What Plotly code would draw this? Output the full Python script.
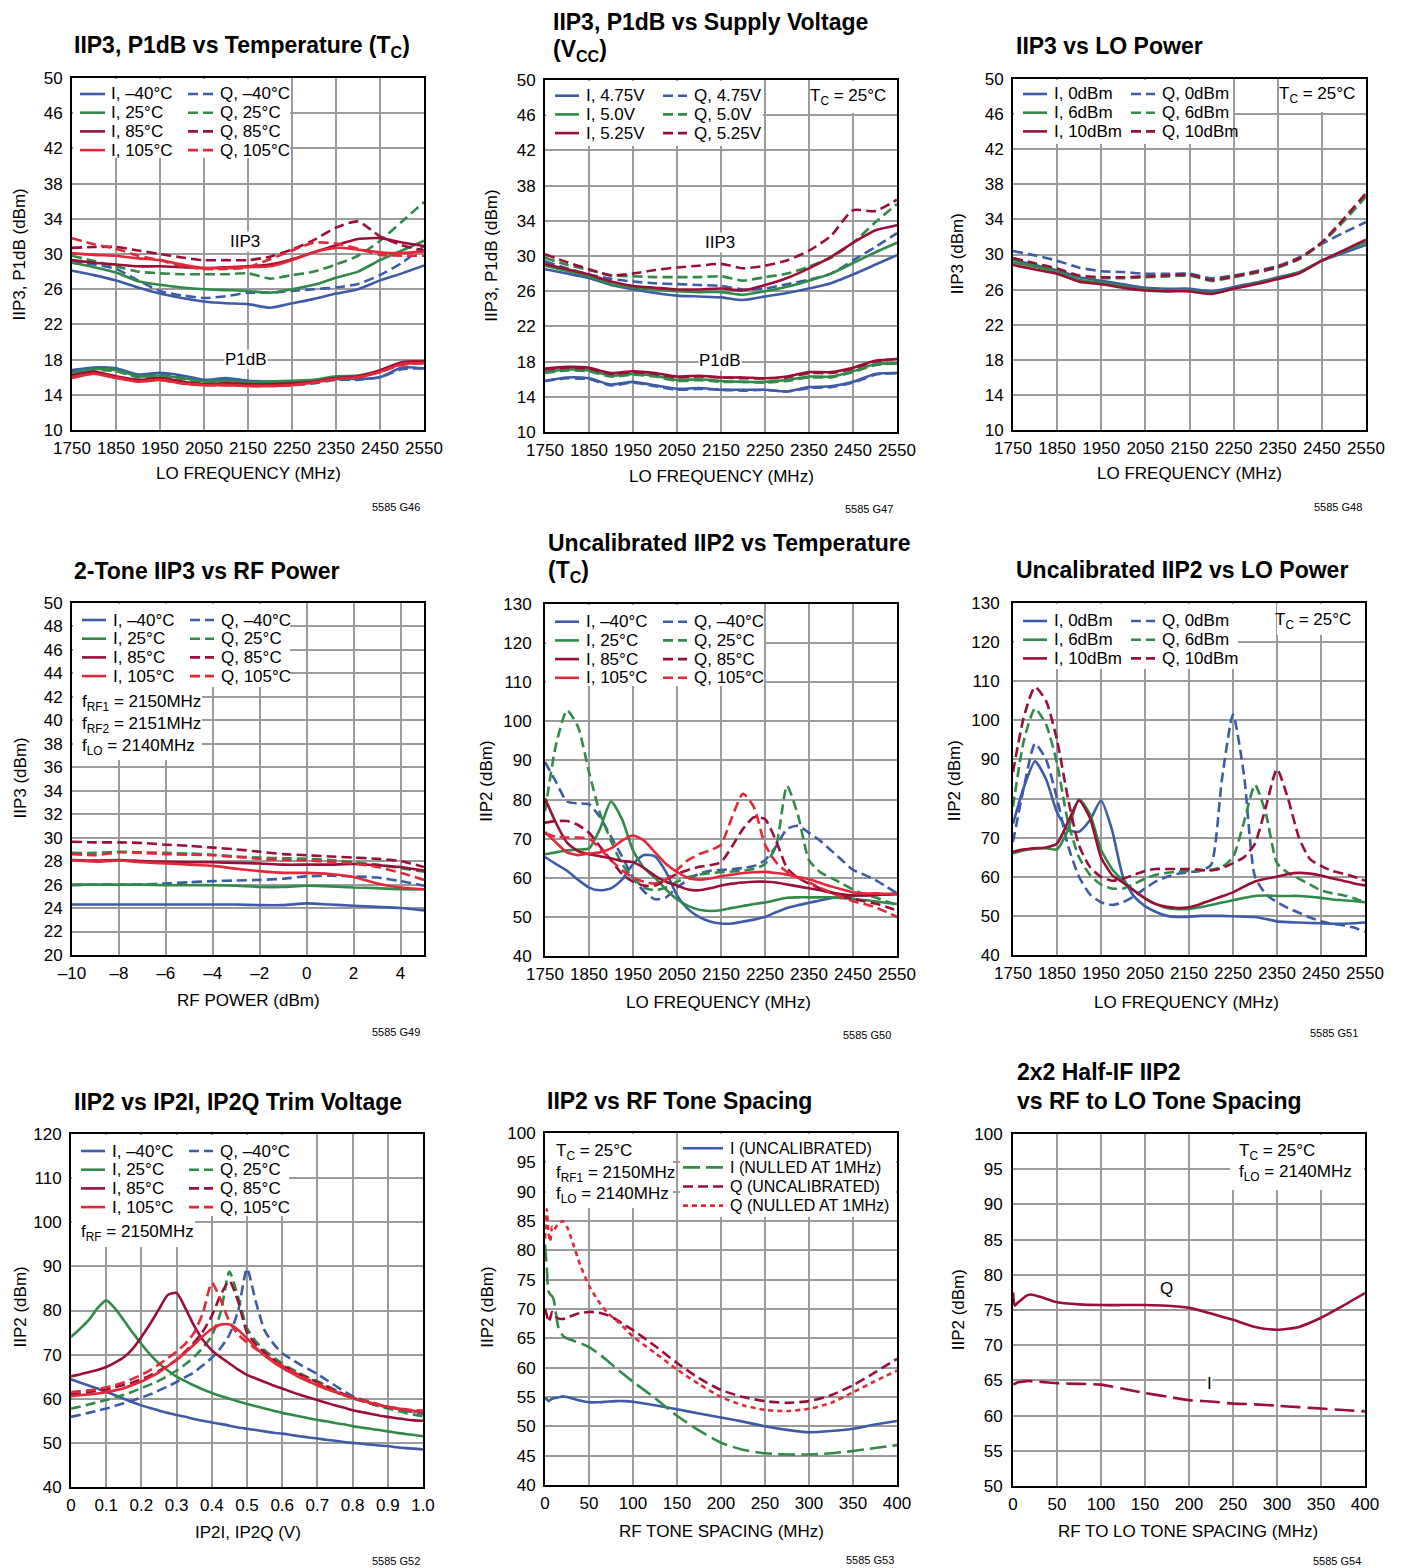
import plotly.graph_objects as go

W, H = 1403, 1568
OFF = 8  # the page body adds an 8px margin; layout positions below are page pixels
FONT = "Liberation Sans, Arial, Helvetica, sans-serif"
BLUE, GREEN, DRED, RED = "#3d5ca8", "#2f8b47", "#9a0f37", "#e32937"
GRID = "#9b9b9b"
LW = 2.6
DASH = "10px,5px"
FS = 17      # body text size
TS = 23      # title size

# ---------------- data ----------------
LO_X = [1750, 1800, 1850, 1900, 1950, 2000, 2050, 2100, 2150, 2200, 2250, 2300, 2350, 2400, 2450, 2500, 2550]
LO_X25 = [1750, 1775, 1800, 1825, 1850, 1875, 1900, 1925, 1950, 1975, 2000, 2025, 2050, 2075, 2100, 2125, 2150,
          2175, 2200, 2225, 2250, 2275, 2300, 2325, 2350, 2375, 2400, 2425, 2450, 2475, 2500, 2525, 2550]
LO_TICKS = [1750, 1850, 1950, 2050, 2150, 2250, 2350, 2450, 2550]

TEMP_LABELS = ["–40°C", "25°C", "85°C", "105°C"]
TEMP_COLORS = [BLUE, GREEN, DRED, RED]
VCC_LABELS = ["4.75V", "5.0V", "5.25V"]
LOP_LABELS = ["0dBm", "6dBm", "10dBm"]
COLORS3 = [BLUE, GREEN, DRED]

# Panel 1: IIP3, P1dB vs temperature
P1_IIP3_I = [
    [28.1, 27.6, 27.0, 26.2, 25.5, 25.0, 24.6, 24.4, 24.3, 23.9, 24.4, 24.9, 25.5, 26.0, 27.0, 27.8, 28.7],
    [29.0, 28.5, 27.9, 26.9, 26.5, 26.2, 26.0, 25.9, 25.8, 25.6, 26.0, 26.5, 27.3, 28.0, 29.3, 30.4, 31.5],
    [29.3, 29.0, 28.8, 28.6, 28.6, 28.5, 28.4, 28.5, 28.6, 28.8, 29.4, 30.2, 31.0, 31.7, 31.8, 31.3, 30.9],
    [30.1, 29.9, 29.8, 29.5, 29.3, 28.8, 28.4, 28.4, 28.5, 28.6, 29.3, 30.2, 30.7, 30.5, 30.2, 30.1, 30.3]]
P1_IIP3_Q = [
    [29.0, 28.8, 28.3, 27.0, 25.8, 25.3, 25.0, 25.2, 25.6, 25.6, 25.8, 26.0, 26.2, 26.6, 27.6, 29.0, 30.9],
    [29.8, 29.2, 28.6, 28.0, 27.8, 27.7, 27.7, 27.7, 27.8, 27.2, 27.6, 28.0, 28.8, 29.8, 31.5, 33.7, 35.9],
    [30.7, 30.8, 30.8, 30.4, 30.0, 29.6, 29.3, 29.3, 29.3, 29.7, 30.5, 31.6, 33.0, 33.7, 32.0, 31.0, 30.4],
    [31.8, 31.1, 30.6, 29.8, 29.3, 28.6, 28.3, 28.3, 28.5, 29.4, 30.4, 31.3, 31.2, 30.6, 29.9, 29.8, 29.8]]
P1_P1DB_I = [
    [16.8, 17.1, 17.0, 16.3, 16.5, 16.2, 15.7, 15.9, 15.6, 15.5, 15.5, 15.6, 15.8, 15.8, 16.0, 17.1, 17.0],
    [16.5, 16.9, 16.8, 16.1, 16.2, 15.9, 15.5, 15.6, 15.4, 15.5, 15.6, 15.7, 16.1, 16.2, 16.7, 17.6, 17.7],
    [16.2, 16.6, 16.1, 15.7, 15.9, 15.5, 15.2, 15.3, 15.2, 15.2, 15.3, 15.5, 15.9, 16.1, 16.8, 17.7, 17.8],
    [15.9, 16.4, 15.9, 15.5, 15.7, 15.3, 15.1, 15.1, 15.0, 15.0, 15.1, 15.4, 15.8, 16.0, 16.6, 17.5, 17.6]]
P1_P1DB_Q = [
    [16.7, 17.0, 16.9, 16.2, 16.4, 16.0, 15.6, 15.7, 15.4, 15.3, 15.1, 15.3, 15.7, 15.7, 16.0, 16.9, 17.0],
    [16.4, 16.8, 16.7, 16.0, 16.1, 15.8, 15.4, 15.5, 15.3, 15.3, 15.4, 15.6, 16.0, 16.1, 16.6, 17.5, 17.7],
    [16.1, 16.5, 16.0, 15.6, 15.8, 15.4, 15.2, 15.2, 15.1, 15.1, 15.2, 15.4, 15.9, 16.0, 16.7, 17.6, 17.8],
    [16.0, 16.4, 16.0, 15.5, 15.7, 15.3, 15.1, 15.1, 15.0, 15.0, 15.1, 15.4, 15.8, 16.0, 16.6, 17.4, 17.6]]

# Panel 2: IIP3, P1dB vs supply voltage
P2_IIP3_I = [
    [28.5, 28.0, 27.5, 26.7, 26.2, 25.8, 25.5, 25.4, 25.3, 25.0, 25.4, 25.8, 26.3, 26.9, 27.9, 29.0, 30.1],
    [28.9, 28.3, 27.7, 26.8, 26.4, 26.2, 26.0, 25.9, 25.9, 25.6, 26.0, 26.5, 27.2, 28.0, 29.2, 30.4, 31.5],
    [29.1, 28.5, 27.9, 27.1, 26.6, 26.4, 26.2, 26.2, 26.3, 26.1, 26.7, 27.5, 28.6, 29.9, 31.5, 32.9, 33.5]]
P2_IIP3_Q = [
    [29.4, 28.6, 27.9, 27.4, 27.1, 26.9, 26.8, 26.7, 26.6, 26.2, 26.3, 26.8, 27.3, 28.0, 29.5, 31.0, 32.6],
    [29.8, 29.0, 28.4, 27.8, 27.7, 27.6, 27.6, 27.6, 27.7, 27.2, 27.6, 28.0, 28.8, 29.8, 31.5, 33.8, 35.9],
    [30.2, 29.3, 28.5, 27.8, 28.0, 28.4, 28.7, 28.9, 29.1, 28.6, 28.9, 29.5, 30.6, 32.3, 35.2, 35.1, 36.4]]
P2_P1DB_I = [
    [15.8, 16.2, 16.1, 15.4, 15.7, 15.3, 14.9, 15.0, 14.8, 14.8, 14.8, 14.6, 15.1, 15.2, 15.7, 16.6, 16.7],
    [16.8, 17.1, 17.0, 16.4, 16.6, 16.4, 15.9, 16.0, 15.8, 15.7, 15.7, 15.9, 16.3, 16.3, 16.9, 17.7, 17.8],
    [17.2, 17.4, 17.3, 16.7, 16.9, 16.7, 16.3, 16.4, 16.2, 16.2, 16.1, 16.3, 16.8, 16.8, 17.3, 18.1, 18.3]]
P2_P1DB_Q = [
    [15.8, 16.1, 16.0, 15.3, 15.6, 15.2, 14.8, 14.9, 14.8, 14.7, 14.8, 14.6, 15.0, 15.1, 15.6, 16.5, 16.7],
    [16.7, 17.0, 16.9, 16.3, 16.5, 16.3, 15.8, 15.9, 15.7, 15.7, 15.6, 15.8, 16.2, 16.2, 16.8, 17.6, 17.8],
    [17.1, 17.3, 17.2, 16.6, 16.8, 16.6, 16.2, 16.3, 16.2, 16.1, 16.1, 16.2, 16.7, 16.7, 17.2, 18.0, 18.3]]

# Panel 3: IIP3 vs LO power
P3_I = [
    [29.4, 28.8, 28.2, 27.4, 27.0, 26.6, 26.2, 26.1, 26.1, 25.8, 26.3, 26.8, 27.4, 28.0, 29.3, 30.2, 31.1],
    [29.1, 28.6, 28.0, 27.1, 26.8, 26.4, 26.0, 25.9, 25.9, 25.6, 26.1, 26.7, 27.3, 28.0, 29.3, 30.4, 31.4],
    [28.8, 28.3, 27.8, 26.9, 26.6, 26.2, 25.9, 25.8, 25.8, 25.5, 26.1, 26.6, 27.2, 27.9, 29.3, 30.5, 31.7]]
P3_Q = [
    [30.4, 29.9, 29.3, 28.5, 28.1, 28.0, 27.8, 27.8, 27.8, 27.3, 27.6, 28.1, 28.7, 29.7, 31.2, 32.5, 33.7],
    [29.5, 28.9, 28.3, 27.5, 27.3, 27.3, 27.4, 27.5, 27.6, 27.0, 27.4, 27.9, 28.5, 29.5, 31.3, 33.8, 36.6],
    [29.6, 29.0, 28.4, 27.6, 27.4, 27.4, 27.5, 27.6, 27.7, 27.1, 27.5, 28.0, 28.6, 29.6, 31.4, 34.1, 37.0]]

# Panel 4: 2-tone IIP3 vs RF power
RF_PWR = [-10, -9, -8, -7, -6, -5, -4, -3, -2, -1, 0, 1, 2, 3, 4, 5]
RF_TICKS = [-10, -8, -6, -4, -2, 0, 2, 4]
RF_TICKTEXT = ["–10", "–8", "–6", "–4", "–2", "0", "2", "4"]
P4_I = [
    [24.3, 24.3, 24.3, 24.3, 24.3, 24.3, 24.3, 24.3, 24.25, 24.25, 24.4, 24.3, 24.2, 24.1, 24.0, 23.8],
    [26.0, 26.0, 26.0, 26.0, 25.95, 25.95, 25.95, 25.9, 25.8, 25.8, 25.9, 25.85, 25.75, 25.7, 25.6, 25.6],
    [28.1, 28.05, 28.1, 28.0, 27.95, 27.9, 27.9, 27.85, 27.8, 27.7, 27.7, 27.7, 27.75, 27.65, 27.5, 27.2],
    [28.1, 27.95, 28.05, 27.9, 27.8, 27.7, 27.6, 27.35, 27.15, 27.0, 27.0, 26.9, 26.65, 26.1, 25.75, 25.6]]
P4_Q = [
    [25.95, 26.0, 26.0, 26.0, 26.1, 26.2, 26.3, 26.35, 26.4, 26.5, 26.7, 26.75, 26.7, 26.6, 26.3, 25.9],
    [28.7, 28.7, 28.8, 28.75, 28.7, 28.65, 28.55, 28.4, 28.3, 28.25, 28.2, 28.1, 27.9, 27.7, 27.4, 27.1],
    [29.65, 29.6, 29.6, 29.55, 29.4, 29.3, 29.15, 29.0, 28.8, 28.6, 28.5, 28.4, 28.3, 28.2, 28.0, 27.5],
    [28.6, 28.5, 28.75, 28.7, 28.6, 28.55, 28.5, 28.35, 28.2, 28.1, 28.05, 27.95, 27.8, 27.5, 27.0, 26.4]]

# Panel 5: uncalibrated IIP2 vs temperature
P5_I = [
    [65.3, 63.5, 61.8, 59.5, 57.5, 56.8, 57.3, 59.5, 63.5, 65.8, 65.5, 61.5, 55.5, 52.0, 50.0, 48.8, 48.3,
     48.3, 48.8, 49.3, 50.0, 51.2, 52.3, 53.0, 53.6, 54.2, 54.8, 55.2, 55.4, 55.5, 55.6, 55.8, 56.0],
    [66.0, 66.5, 67.0, 67.2, 67.5, 72.5, 79.5, 75.0, 67.0, 62.5, 60.0, 57.0, 54.5, 52.8, 51.8, 51.5, 51.7,
     52.3, 52.8, 53.3, 53.7, 54.3, 54.9, 55.0, 55.0, 55.0, 55.0, 54.8, 54.6, 54.3, 54.0, 53.6, 53.3],
    [80.3, 74.0, 69.0, 66.8, 66.0, 65.5, 65.0, 64.3, 64.0, 62.5, 60.5, 59.0, 58.0, 57.0, 56.8, 57.3, 58.0,
     58.5, 58.8, 59.0, 59.0, 58.8, 58.3, 57.8, 57.3, 56.8, 56.2, 55.8, 55.5, 55.5, 55.6, 55.7, 55.8],
    [71.7, 69.0, 66.5, 65.8, 66.2, 66.5, 67.5, 69.5, 70.8, 69.5, 66.5, 63.5, 61.5, 60.0, 59.5, 59.8, 60.4,
     60.8, 61.2, 61.4, 61.5, 61.2, 60.8, 60.2, 59.6, 58.7, 57.8, 57.0, 56.3, 56.0, 56.0, 55.9, 55.8]]
P5_Q = [
    [89.6, 84.5, 79.5, 79.0, 78.8, 75.5, 70.5, 65.5, 60.0, 56.5, 54.5, 55.0, 57.5, 59.5, 61.0, 61.8, 62.0,
     62.2, 62.5, 63.0, 64.5, 68.0, 72.5, 73.3, 71.5, 69.5, 67.0, 64.5, 62.0, 60.8, 59.5, 57.8, 56.0],
    [77.0, 94.0, 102.8, 98.6, 87.0, 76.5, 69.5, 63.5, 60.0, 57.5, 56.8, 57.5, 59.0, 60.2, 60.8, 61.2, 61.4,
     61.6, 61.8, 62.3, 63.5, 68.0, 83.5, 76.0, 64.5, 61.5, 60.0, 58.5, 57.0, 55.8, 55.0, 54.0, 53.0],
    [74.1, 74.5, 74.5, 73.5, 71.5, 68.0, 64.5, 61.0, 59.0, 58.0, 58.0, 59.5, 61.0, 62.0, 62.8, 63.2, 64.0,
     68.0, 72.5, 75.5, 75.0, 69.5, 62.5, 60.0, 58.5, 57.3, 56.3, 55.3, 54.6, 54.0, 53.4, 52.6, 51.6],
    [71.3, 70.5, 70.3, 70.3, 70.0, 67.5, 64.5, 62.0, 60.0, 59.0, 58.5, 59.5, 62.0, 64.5, 66.0, 67.0, 68.5,
     75.5, 81.5, 78.0, 68.5, 64.0, 61.5, 60.0, 58.8, 57.5, 56.2, 55.0, 54.0, 53.3, 52.5, 51.3, 50.0]]

# Panel 6: uncalibrated IIP2 vs LO power
P6_I = [
    [73.6, 83.0, 89.5, 85.0, 76.5, 72.0, 71.5, 74.5, 79.5, 72.0, 60.0, 55.0, 52.5, 51.0, 50.0, 49.7, 49.8,
     50.0, 50.0, 50.0, 49.9, 49.8, 49.7, 49.2, 48.6, 48.4, 48.3, 48.2, 48.1, 48.0, 48.0, 48.1, 48.3],
    [66.0, 66.8, 67.2, 67.3, 67.0, 72.0, 79.8, 76.0, 67.0, 62.0, 59.0, 56.5, 54.5, 53.0, 52.0, 51.7, 51.8,
     52.2, 52.8, 53.4, 54.0, 54.6, 55.1, 55.2, 55.1, 55.1, 55.1, 54.9, 54.6, 54.2, 54.0, 53.8, 53.5],
    [66.4, 67.0, 67.3, 67.5, 68.5, 74.0, 79.5, 75.0, 65.0, 60.5, 58.5, 56.5, 54.5, 53.0, 52.3, 52.0, 52.2,
     53.0, 54.0, 55.0, 56.0, 57.5, 58.8, 59.5, 60.0, 60.7, 61.0, 60.8, 60.3, 59.6, 59.0, 58.3, 57.8]]
P6_Q = [
    [68.9, 83.0, 94.0, 90.0, 80.0, 68.0, 60.0, 55.5, 53.5, 52.8, 53.5, 55.0, 57.0, 58.8, 60.0, 60.8, 61.2,
     61.5, 63.0, 85.0, 101.5, 86.0, 60.0, 55.5, 53.5, 52.0, 50.8, 49.6, 48.6, 48.0, 47.6, 47.0, 46.0],
    [77.9, 95.0, 103.0, 99.0, 89.0, 74.0, 65.0, 60.5, 58.0, 57.0, 57.0, 58.2, 59.5, 60.5, 61.0, 61.3, 61.5,
     61.6, 61.8, 62.5, 65.0, 74.0, 83.5, 76.0, 63.5, 61.0, 59.5, 58.0, 56.5, 55.8, 55.3, 54.5, 53.5],
    [86.8, 101.0, 108.5, 105.0, 95.0, 80.0, 68.0, 62.5, 60.0, 59.0, 59.5, 60.5, 61.5, 62.0, 62.0, 62.0, 62.0,
     61.8, 61.6, 62.2, 63.5, 65.0, 68.5, 78.0, 87.5, 80.0, 70.0, 64.5, 62.8, 61.5, 60.8, 60.0, 59.0]]

# Panel 7: IIP2 vs trim voltage
TRIM_V = [0, 0.025, 0.05, 0.075, 0.1, 0.125, 0.15, 0.175, 0.2, 0.225, 0.25, 0.275, 0.3, 0.325, 0.35,
          0.375, 0.4, 0.425, 0.45, 0.475, 0.5, 0.525, 0.55, 0.575, 0.6, 0.625, 0.65, 0.675, 0.7, 0.725,
          0.75, 0.775, 0.8, 0.825, 0.85, 0.875, 0.9, 0.925, 0.95, 0.975, 1.0]
TRIM_TICKS = [0, 0.1, 0.2, 0.3, 0.4, 0.5, 0.6, 0.7, 0.8, 0.9, 1.0]
TRIM_TICKTEXT = ["0", "0.1", "0.2", "0.3", "0.4", "0.5", "0.6", "0.7", "0.8", "0.9", "1.0"]
P7_I = [
    [64.4, 63.7, 63.0, 62.3, 61.6, 60.8, 60.0, 59.2, 58.5, 57.9, 57.3, 56.8, 56.3, 55.9, 55.4, 55.0, 54.6,
     54.3, 53.9, 53.5, 53.2, 52.9, 52.6, 52.3, 52.1, 51.8, 51.5, 51.2, 51.0, 50.7, 50.5, 50.2, 50.0, 49.8,
     49.6, 49.4, 49.3, 49.0, 48.8, 48.7, 48.5],
    [74.0, 75.8, 77.8, 80.5, 82.3, 80.5, 77.8, 75.0, 72.4, 70.0, 68.0, 66.4, 65.0, 64.0, 63.0, 62.1, 61.3,
     60.6, 60.0, 59.4, 58.8, 58.3, 57.8, 57.3, 56.8, 56.4, 56.0, 55.6, 55.2, 54.9, 54.5, 54.2, 53.8, 53.5,
     53.2, 52.9, 52.6, 52.3, 52.0, 51.8, 51.5],
    [65.1, 65.5, 66.0, 66.5, 67.2, 68.2, 69.4, 71.3, 74.0, 77.0, 80.3, 83.5, 84.0, 80.5, 76.5, 73.3, 71.0,
     69.4, 68.0, 66.6, 65.4, 64.6, 63.8, 63.0, 62.3, 61.6, 60.9, 60.3, 59.7, 59.1, 58.5, 58.0, 57.4, 57.0,
     56.6, 56.2, 55.9, 55.6, 55.3, 55.1, 55.0],
    [60.6, 60.8, 61.0, 61.2, 61.5, 61.9, 62.4, 63.1, 63.9, 64.9, 66.0, 67.4, 68.8, 70.5, 72.3, 74.2, 75.8,
     76.8, 76.8, 75.6, 73.7, 71.6, 69.8, 68.3, 67.0, 65.9, 64.8, 63.9, 63.0, 62.2, 61.5, 60.8, 60.2, 59.6,
     59.1, 58.6, 58.2, 57.8, 57.5, 57.2, 57.0]]
P7_Q = [
    [55.9, 56.3, 56.8, 57.3, 57.8, 58.4, 59.0, 59.6, 60.3, 61.0, 61.9, 62.8, 63.8, 64.9, 66.0, 67.6, 69.3,
     71.5, 74.5, 80.0, 89.5, 82.0, 75.5, 72.5, 70.3, 69.0, 67.8, 66.7, 65.6, 64.3, 63.0, 61.7, 60.6, 59.9,
     59.3, 58.7, 58.2, 57.7, 57.3, 56.9, 56.6],
    [57.8, 58.2, 58.7, 59.2, 59.7, 60.3, 60.9, 61.6, 62.4, 63.2, 64.1, 65.2, 66.4, 67.8, 69.5, 71.6, 74.3,
     79.5, 88.8, 83.0, 76.0, 73.0, 71.0, 69.4, 68.0, 66.8, 65.8, 64.8, 64.0, 63.0, 62.0, 61.0, 60.1, 59.5,
     58.9, 58.3, 57.8, 57.3, 56.8, 56.4, 56.0],
    [61.0, 61.2, 61.5, 61.8, 62.1, 62.6, 63.1, 63.7, 64.4, 65.3, 66.3, 67.5, 68.9, 70.7, 72.8, 75.3, 78.8,
     83.5, 86.7, 82.0, 75.0, 72.3, 70.5, 68.9, 67.6, 66.5, 65.5, 64.6, 63.7, 62.8, 61.9, 61.0, 60.2, 59.6,
     59.0, 58.5, 58.1, 57.8, 57.5, 57.2, 57.0],
    [61.5, 61.7, 61.9, 62.2, 62.6, 63.1, 63.7, 64.5, 65.4, 66.5, 67.8, 69.2, 70.7, 72.5, 75.0, 79.5, 86.3,
     82.5, 77.5, 74.5, 72.8, 71.3, 70.0, 68.7, 67.5, 66.4, 65.3, 64.3, 63.4, 62.5, 61.7, 60.9, 60.2, 59.6,
     59.1, 58.6, 58.2, 57.9, 57.6, 57.4, 57.3]]

# Panel 8: IIP2 vs RF tone spacing
TONE_X = [0, 2, 4, 6, 8, 10, 15, 20, 25, 30, 40, 50, 60, 70, 80, 90, 100, 125, 150, 175, 200, 225, 250,
          275, 300, 325, 350, 375, 400]
SPACING_TICKS = [0, 50, 100, 150, 200, 250, 300, 350, 400]
P8_LABELS = ["I (UNCALIBRATED)", "I (NULLED AT 1MHz)", "Q (UNCALIBRATED)", "Q (NULLED AT 1MHz)"]
P8_COLORS = [BLUE, GREEN, DRED, RED]
P8_DASHES = ["solid", "17px,6px", DASH, "5px,4px"]
P8_Y = [
    [54.8, 54.6, 54.3, 54.5, 54.7, 54.8, 54.9, 55.1, 55.0, 54.8, 54.4, 54.1, 54.1, 54.2, 54.3, 54.3, 54.2,
     53.6, 52.9, 52.2, 51.5, 50.8, 50.0, 49.4, 49.0, 49.2, 49.6, 50.3, 50.9],
    [81.0, 77.0, 73.0, 72.5, 72.2, 71.5, 67.0, 65.5, 65.0, 64.7, 64.2, 63.5, 62.5, 61.3, 60.0, 58.8, 57.6,
     54.8, 51.8, 49.3, 47.2, 46.0, 45.4, 45.2, 45.2, 45.4, 45.8, 46.3, 46.8],
    [70.0, 69.0, 67.8, 68.5, 69.5, 69.0, 68.4, 68.3, 68.5, 68.8, 69.3, 69.5, 69.4, 69.0, 68.3, 67.3, 66.4,
     63.7, 60.8, 58.2, 56.2, 55.0, 54.3, 54.0, 54.3, 55.3, 57.0, 59.2, 61.5],
    [82.0, 87.0, 83.0, 81.5, 84.0, 83.5, 84.5, 85.0, 84.0, 82.0, 77.5, 74.0, 71.5, 69.5, 68.2, 66.8, 65.3,
     62.5, 59.7, 57.2, 55.0, 53.6, 52.8, 52.6, 53.0, 54.0, 55.8, 57.7, 59.5]]

# Panel 9: 2x2 half-IF IIP2
HALFIF_X = [0, 2, 5, 10, 15, 20, 30, 40, 50, 75, 100, 125, 150, 175, 200, 225, 250, 275, 300, 325, 350, 375, 400]
P9_Q = [77.5, 75.6, 76.0, 76.5, 77.0, 77.2, 76.9, 76.5, 76.1, 75.8, 75.7, 75.7, 75.7, 75.6, 75.3, 74.5,
        73.6, 72.6, 72.2, 72.6, 73.9, 75.6, 77.4]
P9_I = [64.4, 64.5, 64.7, 64.8, 64.9, 64.9, 64.8, 64.7, 64.6, 64.5, 64.4, 63.8, 63.2, 62.7, 62.2, 62.0,
        61.7, 61.6, 61.4, 61.2, 61.0, 60.8, 60.6]

# ---------------- figure ----------------
fig = go.Figure()
annotations = []
shapes = []


def PX(x):
    return (x - OFF) / W


def PY(y):
    return 1 - (y - OFF) / H


def note(x, y, s, size=FS, xa="left", ya="middle", bg=None, xref="paper", yref="paper", angle=0):
    if xref == "paper":
        x = PX(x)
    if yref == "paper":
        y = PY(y)
    d = dict(x=x, y=y, xref=xref, yref=yref, text=s, showarrow=False, xanchor=xa, yanchor=ya,
             font=dict(family=FONT, size=size, color="black"), textangle=angle)
    if bg:
        d.update(bgcolor=bg, borderpad=0)
    annotations.append(d)


def white_box(x0, y0, x1, y1):
    shapes.append(dict(type="rect", xref="paper", yref="paper", x0=PX(x0), x1=PX(x1), y0=PY(y1), y1=PY(y0),
                       fillcolor="white", line=dict(width=0), layer="above"))


def legend_col(entries, x0, x1, xt, y0, dy=18.7, size=FS):
    for k, (label, color, dash) in enumerate(entries):
        yy = y0 + k * dy
        shapes.append(dict(type="line", xref="paper", yref="paper", x0=PX(x0), x1=PX(x1), y0=PY(yy), y1=PY(yy),
                           line=dict(color=color, width=LW, dash=dash), layer="above"))
        note(xt, yy, label, size=size)


def lines(n, xs, ys, color, dash="solid"):
    fig.add_trace(go.Scatter(x=xs, y=ys, mode="lines", xaxis="x" + n, yaxis="y" + n, showlegend=False,
                             hoverinfo="skip",
                             line=dict(color=color, width=LW, dash=dash, shape="spline", smoothing=0.6)))


AX = dict(showgrid=True, gridcolor=GRID, gridwidth=1.5, showline=True, linecolor="black", linewidth=2,
          mirror=True, zeroline=False, ticks="", fixedrange=True, tickmode="array", automargin=False,
          tickangle=0, tickfont=dict(family=FONT, size=FS, color="black"))

PANELS = [
    dict(box=(72, 78, 424, 430), xr=[1750, 2550], xt=LO_TICKS, xtt=[str(v) for v in LO_TICKS],
         yr=[10, 50], yt=[10, 14, 18, 22, 26, 30, 34, 38, 42, 46, 50], ys=4),
    dict(box=(545, 80, 897, 432), xr=[1750, 2550], xt=LO_TICKS, xtt=[str(v) for v in LO_TICKS],
         yr=[10, 50], yt=[10, 14, 18, 22, 26, 30, 34, 38, 42, 46, 50], ys=4),
    dict(box=(1013, 79, 1366, 430), xr=[1750, 2550], xt=LO_TICKS, xtt=[str(v) for v in LO_TICKS],
         yr=[10, 50], yt=[10, 14, 18, 22, 26, 30, 34, 38, 42, 46, 50], ys=4),
    dict(box=(72, 603, 424, 955), xr=[-10, 5], xt=RF_TICKS, xtt=RF_TICKTEXT,
         yr=[20, 50], yt=[20, 22, 24, 26, 28, 30, 32, 34, 36, 38, 40, 42, 44, 46, 48, 50], ys=4),
    dict(box=(545, 604, 897, 956), xr=[1750, 2550], xt=LO_TICKS, xtt=[str(v) for v in LO_TICKS],
         yr=[40, 130], yt=[40, 50, 60, 70, 80, 90, 100, 110, 120, 130], ys=8),
    dict(box=(1013, 603, 1365, 955), xr=[1750, 2550], xt=LO_TICKS, xtt=[str(v) for v in LO_TICKS],
         yr=[40, 130], yt=[40, 50, 60, 70, 80, 90, 100, 110, 120, 130], ys=8),
    dict(box=(71, 1134, 423, 1487), xr=[0, 1.0], xt=TRIM_TICKS, xtt=TRIM_TICKTEXT,
         yr=[40, 120], yt=[40, 50, 60, 70, 80, 90, 100, 110, 120], ys=4),
    dict(box=(545, 1133, 897, 1485), xr=[0, 400], xt=SPACING_TICKS, xtt=[str(v) for v in SPACING_TICKS],
         yr=[40, 100], yt=[40, 45, 50, 55, 60, 65, 70, 75, 80, 85, 90, 95, 100], ys=4),
    dict(box=(1013, 1134, 1365, 1486), xr=[0, 400], xt=SPACING_TICKS, xtt=[str(v) for v in SPACING_TICKS],
         yr=[50, 100], yt=[50, 55, 60, 65, 70, 75, 80, 85, 90, 95, 100], ys=5),
]

layout_axes = {}
for i, p in enumerate(PANELS):
    n = "" if i == 0 else str(i + 1)
    l, t, r, b = p["box"]
    layout_axes["xaxis" + n] = dict(AX, domain=[PX(l), PX(r)], anchor="y" + n, range=p["xr"],
                                    tickvals=p["xt"], ticktext=p["xtt"], ticklabelstandoff=2)
    layout_axes["yaxis" + n] = dict(AX, domain=[PY(b), PY(t)], anchor="x" + n, range=p["yr"],
                                    tickvals=p["yt"], ticktext=[str(v) for v in p["yt"]],
                                    ticklabelstandoff=p["ys"])

# ---- traces ----
for k in range(4):
    lines("", LO_X, P1_IIP3_I[k], TEMP_COLORS[k])
    lines("", LO_X, P1_P1DB_I[k], TEMP_COLORS[k])
    lines("", LO_X, P1_IIP3_Q[k], TEMP_COLORS[k], DASH)
    lines("", LO_X, P1_P1DB_Q[k], TEMP_COLORS[k], DASH)
for k in range(3):
    lines("2", LO_X, P2_IIP3_I[k], COLORS3[k])
    lines("2", LO_X, P2_P1DB_I[k], COLORS3[k])
    lines("2", LO_X, P2_IIP3_Q[k], COLORS3[k], DASH)
    lines("2", LO_X, P2_P1DB_Q[k], COLORS3[k], DASH)
for k in range(3):
    lines("3", LO_X, P3_I[k], COLORS3[k])
    lines("3", LO_X, P3_Q[k], COLORS3[k], DASH)
for k in range(4):
    lines("4", RF_PWR, P4_I[k], TEMP_COLORS[k])
    lines("4", RF_PWR, P4_Q[k], TEMP_COLORS[k], DASH)
for k in range(4):
    lines("5", LO_X25, P5_I[k], TEMP_COLORS[k])
    lines("5", LO_X25, P5_Q[k], TEMP_COLORS[k], DASH)
for k in range(3):
    lines("6", LO_X25, P6_I[k], COLORS3[k])
    lines("6", LO_X25, P6_Q[k], COLORS3[k], DASH)
for k in range(4):
    lines("7", TRIM_V, P7_I[k], TEMP_COLORS[k])
    lines("7", TRIM_V, P7_Q[k], TEMP_COLORS[k], DASH)
for k in range(4):
    lines("8", TONE_X, P8_Y[k], P8_COLORS[k], P8_DASHES[k])
lines("9", HALFIF_X, P9_Q, DRED)
lines("9", HALFIF_X, P9_I, DRED, "20px,7px")

# ---- white backgrounds behind legends / notes ----
B = [p["box"] for p in PANELS]
white_box(B[0][0] + 1, B[0][1] + 1, B[0][0] + 218, B[0][1] + 80)
white_box(B[1][0] + 1, B[1][1] + 1, B[1][0] + 218, B[1][1] + 66)
white_box(B[1][2] - 85, B[1][1] + 1, B[1][2] - 1, B[1][1] + 33)
white_box(B[2][0] + 1, B[2][1] + 1, B[2][0] + 220, B[2][1] + 65)
white_box(B[2][2] - 84, B[2][1] + 1, B[2][2] - 1, B[2][1] + 33)
white_box(B[3][0] + 1, B[3][1] + 1, B[3][0] + 218, B[3][1] + 84)
white_box(B[3][0] + 1, B[3][1] + 84, B[3][0] + 130, B[3][1] + 157)
white_box(B[4][0] + 1, B[4][1] + 1, B[4][0] + 219, B[4][1] + 82)
white_box(B[5][0] + 1, B[5][1] + 1, B[5][0] + 225, B[5][1] + 66)
white_box(B[5][2] - 88, B[5][1] + 1, B[5][2] - 1, B[5][1] + 32)
white_box(B[6][0] + 1, B[6][1] + 1, B[6][0] + 218, B[6][1] + 82)
white_box(B[6][0] + 1, B[6][1] + 82, B[6][0] + 124, B[6][1] + 113)
white_box(B[7][0] + 1, B[7][1] + 1, B[7][0] + 128, B[7][1] + 75)
white_box(680, B[7][1] + 1, B[7][2] - 1, B[7][1] + 84)
white_box(B[8][2] - 135, B[8][1] + 1, B[8][2] - 1, B[8][1] + 56)


def two_col_legend(i, i_labels, q_labels, colors, r0, icol=(10, 34, 39), qcol=(118, 142, 147)):
    l, t, r, b = PANELS[i]["box"]
    legend_col([(s, c, "solid") for s, c in zip(i_labels, colors)], l + icol[0], l + icol[1], l + icol[2], t + r0)
    legend_col([(s, c, DASH) for s, c in zip(q_labels, colors)], l + qcol[0], l + qcol[1], l + qcol[2], t + r0)


two_col_legend(0, ["I, " + s for s in TEMP_LABELS], ["Q, " + s for s in TEMP_LABELS], TEMP_COLORS, 16,
               icol=(8, 33, 37), qcol=(116, 141, 146))
two_col_legend(1, ["I, " + s for s in VCC_LABELS], ["Q, " + s for s in VCC_LABELS], COLORS3, 15.7)
two_col_legend(2, ["I, " + s for s in LOP_LABELS], ["Q, " + s for s in LOP_LABELS], COLORS3, 15)
two_col_legend(3, ["I, " + s for s in TEMP_LABELS], ["Q, " + s for s in TEMP_LABELS], TEMP_COLORS, 17)
two_col_legend(4, ["I, " + s for s in TEMP_LABELS], ["Q, " + s for s in TEMP_LABELS], TEMP_COLORS, 17.7)
two_col_legend(5, ["I, " + s for s in LOP_LABELS], ["Q, " + s for s in LOP_LABELS], COLORS3, 18)
two_col_legend(6, ["I, " + s for s in TEMP_LABELS], ["Q, " + s for s in TEMP_LABELS], TEMP_COLORS, 17)
legend_col(list(zip(P8_LABELS, P8_COLORS, P8_DASHES)), 683, 723, 728, B[7][1] + 15.3, dy=19.1, size=16)

# ---- condition notes ----
TC = "T<sub>C</sub> = 25°C"
note(B[1][2] - 9, B[1][1] + 16.7, TC, xa="right")
note(B[2][2] - 9, B[2][1] + 16, TC, xa="right")
note(B[5][2] - 12, B[5][1] + 18, TC, xa="right")
note(B[3][0] + 8, B[3][1] + 100, "f<sub>RF1</sub> = 2150MHz")
note(B[3][0] + 8, B[3][1] + 122, "f<sub>RF2</sub> = 2151MHz")
note(B[3][0] + 8, B[3][1] + 144, "f<sub>LO</sub> = 2140MHz")
note(B[6][0] + 8, B[6][1] + 99, "f<sub>RF</sub> = 2150MHz")
note(B[7][0] + 9, B[7][1] + 18.7, TC)
note(B[7][0] + 9, B[7][1] + 41, "f<sub>RF1</sub> = 2150MHz")
note(B[7][0] + 9, B[7][1] + 62, "f<sub>LO</sub> = 2140MHz")
note(B[8][2] - 128, B[8][1] + 17.7, TC)
note(B[8][2] - 128, B[8][1] + 38.7, "f<sub>LO</sub> = 2140MHz")

# curve labels (data coordinates)
note(2144, 31.4, "IIP3", xa="center", bg="white", xref="x", yref="y")
note(2146, 18.0, "P1dB", xa="center", bg="white", xref="x", yref="y")
note(2147, 31.5, "IIP3", xa="center", bg="white", xref="x2", yref="y2")
note(2148, 18.1, "P1dB", xa="center", bg="white", xref="x2", yref="y2")
note(174, 78.0, "Q", xa="center", xref="x9", yref="y9")
note(223, 64.6, "I", xa="center", bg="white", xref="x9", yref="y9")

# ---- titles ----
note(72, 46.5, "<b>IIP3, P1dB vs Temperature (T<sub>C</sub>)</b>", size=TS)
note(551, 22, "<b>IIP3, P1dB vs Supply Voltage</b>", size=TS)
note(551, 50, "<b>(V<sub>CC</sub>)</b>", size=TS)
note(1014, 46.5, "<b>IIP3 vs LO Power</b>", size=TS)
note(72, 571, "<b>2-Tone IIP3 vs RF Power</b>", size=TS)
note(546, 542.5, "<b>Uncalibrated IIP2 vs Temperature</b>", size=TS)
note(546, 571.5, "<b>(T<sub>C</sub>)</b>", size=TS)
note(1014, 570, "<b>Uncalibrated IIP2 vs LO Power</b>", size=TS)
note(72, 1101.7, "<b>IIP2 vs IP2I, IP2Q Trim Voltage</b>", size=TS)
note(545, 1101, "<b>IIP2 vs RF Tone Spacing</b>", size=TS)
note(1015, 1071.7, "<b>2x2 Half-IF IIP2</b>", size=TS)
note(1015, 1100.8, "<b>vs RF to LO Tone Spacing</b>", size=TS)

# ---- axis titles ----
AXT = [
    ("LO FREQUENCY (MHz)", 248, 474, "IIP3, P1dB (dBm)", 19.5, 255),
    ("LO FREQUENCY (MHz)", 721, 476, "IIP3, P1dB (dBm)", 490.7, 256),
    ("LO FREQUENCY (MHz)", 1189.5, 474, "IIP3 (dBm)", 958.3, 254),
    ("RF POWER (dBm)", 248.3, 1000.7, "IIP3 (dBm)", 19.5, 778),
    ("LO FREQUENCY (MHz)", 718, 1002.5, "IIP2 (dBm)", 485.7, 781),
    ("LO FREQUENCY (MHz)", 1186, 1002, "IIP2 (dBm)", 954.3, 781),
    ("IP2I, IP2Q (V)", 247.5, 1532, "IIP2 (dBm)", 19.5, 1307),
    ("RF TONE SPACING (MHz)", 721.7, 1531.7, "IIP2 (dBm)", 486.7, 1307),
    ("RF TO LO TONE SPACING (MHz)", 1188.3, 1531, "IIP2 (dBm)", 958.3, 1310),
]
for xt_, xx, xy, yt_, yx, yy in AXT:
    note(xx, xy, xt_, xa="center")
    note(yx, yy, yt_, xa="center", angle=-90)

# ---- figure codes ----
CODES = [("5585 G46", 422, 507), ("5585 G47", 895, 509), ("5585 G48", 1364, 507),
         ("5585 G49", 422, 1032), ("5585 G50", 893, 1035), ("5585 G51", 1360, 1033),
         ("5585 G52", 422, 1561), ("5585 G53", 896, 1560), ("5585 G54", 1363, 1561)]
for s, x, y in CODES:
    note(x, y, s, size=11, xa="right")

fig.update_layout(width=W, height=H, margin=dict(l=0, r=0, t=0, b=0, autoexpand=False), paper_bgcolor="white",
                  plot_bgcolor="white", showlegend=False, annotations=annotations, shapes=shapes,
                  font=dict(family=FONT, color="black"), **layout_axes)
fig.write_html("out.html")
